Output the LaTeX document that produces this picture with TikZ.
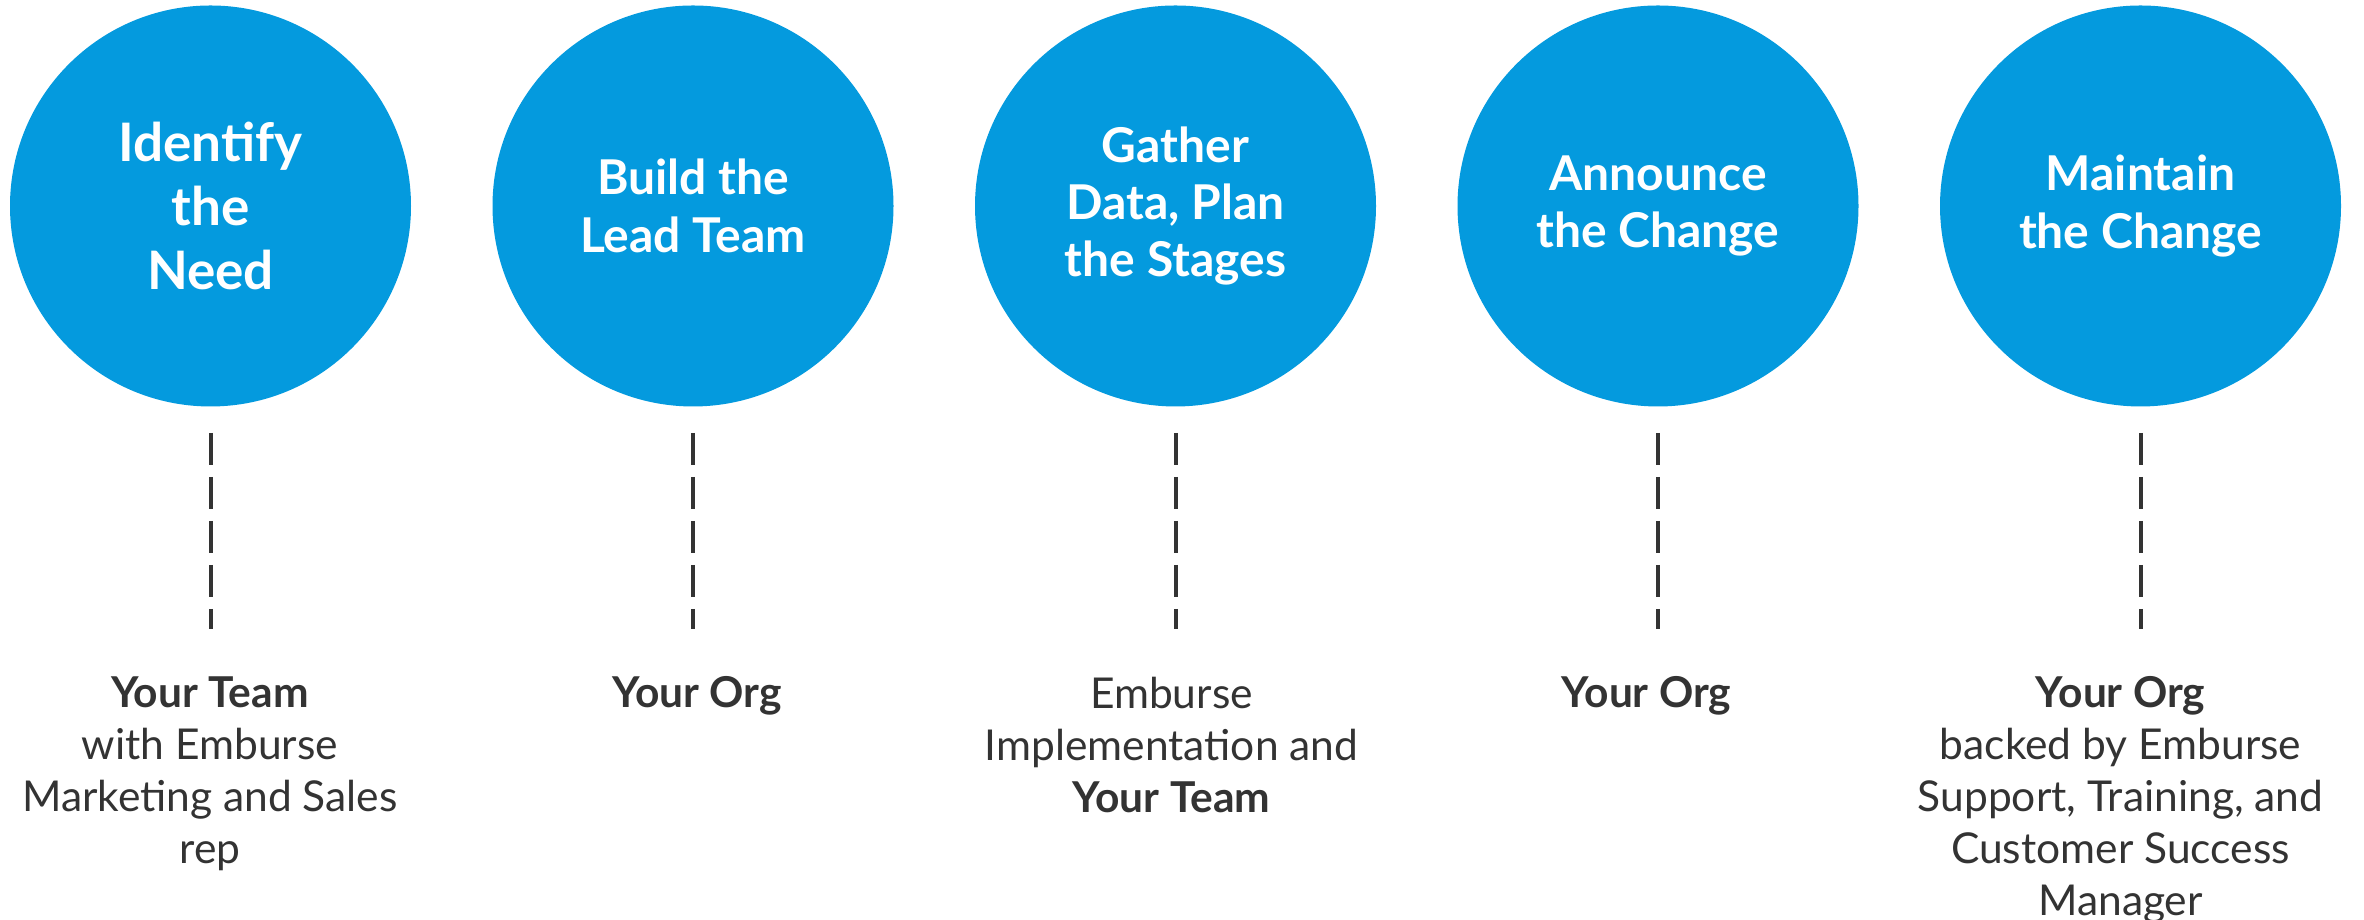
\documentclass[tikz,border=0pt]{standalone}
\usepackage{fontspec}
\setmainfont{Lato}
\usepackage{tikz}
\usetikzlibrary{positioning}

\definecolor{stepblue}{RGB}{4,154,222}
\definecolor{textgrey}{RGB}{51,51,51}

\tikzset{
  stepcircle/.style={circle, fill=stepblue, minimum size=8.02cm, inner sep=0pt,
    text=white, align=center, font=\fontsize{27.3}{32.7}\selectfont\bfseries},
  whobox/.style={anchor=north, inner sep=0pt, text=textgrey, align=center,
    font=\fontsize{24.2}{29.6}\selectfont},
  dashline/.style={draw=textgrey, line width=0.08cm, dash pattern=on 0.64cm off 0.24cm,
    shorten <=0.52cm, shorten >=0.95cm}
}

\begin{document}
\begin{tikzpicture}
		\useasboundingbox (0,0) rectangle (47.28,18.4);
		% the five steps
		\node[stepcircle, font=\fontsize{30.2}{36.4}\selectfont\bfseries] (identify) at (4.21,14.28) {Identify\\the\\Need};
		\node[stepcircle] (build) at (13.86,14.28) {Build the\\Lead Team};
		\node[stepcircle] (gather) at (23.51,14.28) {Gather\\Data, Plan\\the Stages};
		\node[stepcircle] (announce) at (33.16,14.28) {Announce\\the Change};
		\node[stepcircle] (maintain) at (42.81,14.28) {Maintain\\the Change};
		
		% who does it
		\node[whobox] (identifywho) at (4.2,4.87) {\textbf{Your Team}\\with Emburse\\Marketing and Sales\\rep};
		\node[whobox] (buildwho) at (13.94,4.87) {\textbf{Your Org}};
		\node[whobox] (gatherwho) at (23.43,4.87) {Emburse\\Implementation and\\\textbf{Your Team}};
		\node[whobox] (announcewho) at (32.93,4.87) {\textbf{Your Org}};
		\node[whobox] (maintainwho) at (42.41,4.87) {\textbf{Your Org}\\backed by Emburse\\Support, Training, and\\Customer Success\\Manager};
		
		\draw[dashline] (identify) -- (identify |- identifywho.north);
		\draw[dashline] (build) -- (build |- buildwho.north);
		\draw[dashline] (gather) -- (gather |- gatherwho.north);
		\draw[dashline] (announce) -- (announce |- announcewho.north);
		\draw[dashline] (maintain) -- (maintain |- maintainwho.north);
		
		\end{tikzpicture}
\end{document}
